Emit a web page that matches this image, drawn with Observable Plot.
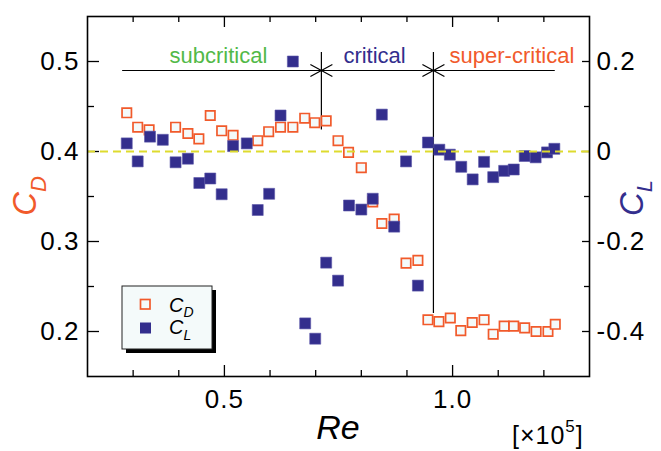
<!DOCTYPE html>
<html><head><meta charset="utf-8">
<script src="https://cdn.jsdelivr.net/npm/d3@7"></script>
<script src="https://cdn.jsdelivr.net/npm/@observablehq/plot@0.6"></script>
<style>
body{margin:0;background:#fff;}
#chart svg{display:block;}
#chart g[aria-label$="tick label"] text{letter-spacing:1px;}
</style></head><body><div id="chart"></div>
<script>
// ---- data (Re in units of 1e5) ----
const reCD = [0.286,0.31,0.335,0.393,0.42,0.444,0.469,0.494,0.519,0.573,0.597,0.623,0.65,0.676,0.698,0.723,0.749,0.772,0.8,0.825,0.845,0.872,0.898,0.924,0.946,0.97,0.995,1.018,1.043,1.069,1.089,1.113,1.134,1.158,1.183,1.209,1.225];
const cd   = [0.443,0.427,0.424,0.427,0.42,0.414,0.44,0.423,0.418,0.412,0.422,0.427,0.427,0.437,0.432,0.434,0.412,0.399,0.382,0.344,0.32,0.325,0.276,0.279,0.213,0.211,0.215,0.201,0.21,0.213,0.197,0.206,0.206,0.204,0.2,0.2,0.208];
const reCL = [0.286,0.31,0.337,0.365,0.393,0.42,0.445,0.469,0.494,0.519,0.549,0.573,0.598,0.623,0.65,0.677,0.699,0.723,0.749,0.773,0.8,0.825,0.845,0.872,0.898,0.924,0.946,0.971,0.994,1.019,1.044,1.069,1.089,1.113,1.134,1.158,1.182,1.207,1.223];
const cl   = [0.018,-0.022,0.033,0.026,-0.024,-0.016,-0.07,-0.06,-0.095,0.012,0.018,-0.13,-0.094,0.08,0.2,-0.382,-0.416,-0.247,-0.287,-0.12,-0.129,-0.105,0.082,-0.167,-0.022,-0.298,0.02,0.004,-0.007,-0.034,-0.062,-0.023,-0.057,-0.043,-0.04,-0.01,-0.013,-0.002,0.006];

const xMajorTicks = [0.5, 1.0];
const xMinorTicks = [0.3,0.4,0.6,0.7,0.8,0.9,1.1,1.2];
const cdMajorTicks = [0.2,0.3,0.4,0.5];
const cdMinorTicks = [0.25,0.35,0.45];
const clMajorTicks = [-0.4,-0.2,0,0.2];
const clMinorTicks = [-0.3,-0.1,0.1];
const refLineCD = [0.4];

const regimeNames = ["subcritical","critical","super-critical"];
const regimeLabelRe = [0.487, 0.829, 1.13];
const regimeLabelCD = 0.5063;
const regimeBounds = [0.7125, 0.958];
const regimeBoundBottom = [0.424, 0.22];
const regimeBoundTop = 0.51;
const regimeLineRe = [0.277, 1.225];
const regimeLineCD = 0.49;

// colours
const ORANGE = "#f15a2b", NAVY = "#332e8d", GREEN = "#52b948", YELLOW = "#dedb2e";
const regimeColors = [GREEN, NAVY, ORANGE];

// C_L is drawn against the C_D axis: C_L = 2*(C_D - 0.4)
const clToCd = v => 0.4 + v / 2;

const cdData = reCD.map((r, i) => ({re: r, v: cd[i]}));
const clData = reCL.map((r, i) => ({re: r, v: clToCd(cl[i])}));
const regimeLabels = regimeNames.map((n, i) => ({name: n, re: regimeLabelRe[i], color: regimeColors[i]}));
const bounds = regimeBounds.map((b, i) => ({re: b, y1: regimeBoundBottom[i], y2: regimeBoundTop}));

const W = 661, H = 451, ML = 87, MR = 72, MT = 16, MB = 75;
const IW = W - ML - MR, IH = H - MT - MB;
const FONT = "'Liberation Sans', Arial, Helvetica, sans-serif";

const crossArrow = {draw(ctx){ ctx.moveTo(-11,-6); ctx.lineTo(11,6); ctx.moveTo(-11,6); ctx.lineTo(11,-6); }};

const chart = Plot.plot({
  width: W, height: H,
  marginLeft: ML, marginRight: MR, marginTop: MT, marginBottom: MB,
  style: {fontFamily: FONT, background: "#fff", color: "#000"},
  x: {domain: [0.2, 1.3]},
  y: {domain: [0.15, 0.55]},
  marks: [
    // tick labels
    Plot.axisX({ticks: xMajorTicks, tickSize: 0, tickPadding: 13, fontSize: 26, tickFormat: d => d.toFixed(1), label: null}),
    Plot.axisY({ticks: cdMajorTicks, anchor: "left", tickSize: 0, tickPadding: 8, fontSize: 26, tickFormat: d => d.toFixed(1), label: null}),
    Plot.axisY({ticks: clMajorTicks.map(clToCd), anchor: "right", tickSize: 0, tickPadding: 7, fontSize: 26,
      tickFormat: d => { const v = Math.round((d - 0.4) * 2 * 10) / 10; return v === 0 ? "0" : (v < 0 ? "-" : "") + Math.abs(v).toFixed(1); }, label: null}),
    // inward tick marks
    Plot.ruleY(cdMajorTicks, {insetRight: IW - 12, stroke: "#000", strokeWidth: 1.3}),
    Plot.ruleY(cdMinorTicks, {insetRight: IW - 7, stroke: "#000", strokeWidth: 1.3}),
    Plot.ruleY(clMajorTicks.map(clToCd), {insetLeft: IW - 7, stroke: "#000", strokeWidth: 1.3}),
    Plot.ruleY(clMinorTicks.map(clToCd), {insetLeft: IW - 5, stroke: "#000", strokeWidth: 1.3}),
    Plot.ruleX(xMajorTicks, {insetTop: IH - 11, stroke: "#000", strokeWidth: 1.3}),
    Plot.ruleX(xMinorTicks, {insetTop: IH - 6, stroke: "#000", strokeWidth: 1.3}),
    Plot.ruleX(xMajorTicks, {insetBottom: IH - 11, stroke: "#000", strokeWidth: 1.3}),
    Plot.ruleX(xMinorTicks, {insetBottom: IH - 6, stroke: "#000", strokeWidth: 1.3}),
    // regime annotation
    Plot.ruleY([regimeLineCD], {x1: regimeLineRe[0], x2: regimeLineRe[1], stroke: "#000", strokeWidth: 1.2}),
    Plot.ruleX(bounds, {x: "re", y1: "y1", y2: "y2", stroke: "#000", strokeWidth: 1.2}),
    Plot.dot(regimeBounds, {x: d => d, y: () => regimeLineCD, symbol: crossArrow, r: 6, stroke: "#000", strokeWidth: 1.2, fill: "none"}),
    Plot.text(regimeLabels, {x: "re", y: () => regimeLabelCD, text: "name", fill: "color", fontSize: 22, fontFamily: FONT}),
    // data
    Plot.dot(cdData, {x: "re", y: "v", symbol: "square", r: 5.3, stroke: ORANGE, strokeWidth: 1.7, fill: "#f4fafa"}),
    Plot.dot(clData, {x: "re", y: "v", symbol: "square", r: 6.2, fill: NAVY, stroke: "#5a56a8", strokeWidth: 0.6}),
    // reference line
    Plot.ruleY(refLineCD, {stroke: YELLOW, strokeWidth: 1.8, strokeDasharray: "8,5"}),
    Plot.frame({stroke: "#000", strokeWidth: 1.6})
  ]
});

const svg = d3.select(chart);
// axis titles
const cdT = svg.append("text").attr("transform", "translate(36,196) rotate(-90)")
  .attr("text-anchor", "middle").attr("fill", ORANGE).style("font-family", FONT);
cdT.append("tspan").attr("font-size", 33).attr("font-style", "italic").text("C");
cdT.append("tspan").attr("font-size", 22).attr("font-style", "italic").attr("dy", 10).text("D");

const clT = svg.append("text").attr("transform", "translate(643,198) rotate(-90)")
  .attr("text-anchor", "middle").attr("fill", NAVY).style("font-family", FONT);
clT.append("tspan").attr("font-size", 33).attr("font-style", "italic").text("C");
clT.append("tspan").attr("font-size", 22).attr("font-style", "italic").attr("dy", 9).text("L");

svg.append("text").attr("x", 338).attr("y", 439).attr("text-anchor", "middle")
  .attr("font-size", 34).attr("font-style", "italic").style("font-family", FONT).text("Re");

const mult = svg.append("text").attr("x", 512).attr("y", 444).attr("text-anchor", "start")
  .attr("font-size", 25).style("font-family", FONT).style("letter-spacing", "1px");
mult.append("tspan").text("[×10");
mult.append("tspan").attr("font-size", 17).attr("dy", -12).text("5");
mult.append("tspan").attr("dy", 12).text("]");

// legend
const lg = svg.append("g").attr("text-anchor", "start");
lg.append("rect").attr("x", 126).attr("y", 290).attr("width", 90).attr("height", 63).attr("fill", "#000");
lg.append("rect").attr("x", 122).attr("y", 286).attr("width", 90).attr("height", 63).attr("fill", "#f4fafa").attr("stroke", "#222").attr("stroke-width", 1);
lg.append("rect").attr("x", 140.5).attr("y", 299.5).attr("width", 9.5).attr("height", 9.5).attr("fill", "#f4fafa").attr("stroke", ORANGE).attr("stroke-width", 1.7);
lg.append("rect").attr("x", 140).attr("y", 322.5).attr("width", 11).attr("height", 11).attr("fill", NAVY);
const l1 = lg.append("text").attr("x", 169).attr("y", 312).attr("font-size", 20).attr("font-style", "italic").style("font-family", FONT);
l1.append("tspan").text("C");
l1.append("tspan").attr("font-size", 14).attr("dy", 5).text("D");
const l2 = lg.append("text").attr("x", 169).attr("y", 334).attr("font-size", 20).attr("font-style", "italic").style("font-family", FONT);
l2.append("tspan").text("C");
l2.append("tspan").attr("font-size", 14).attr("dy", 6).text("L");

document.getElementById("chart").append(chart);
</script></body></html>
